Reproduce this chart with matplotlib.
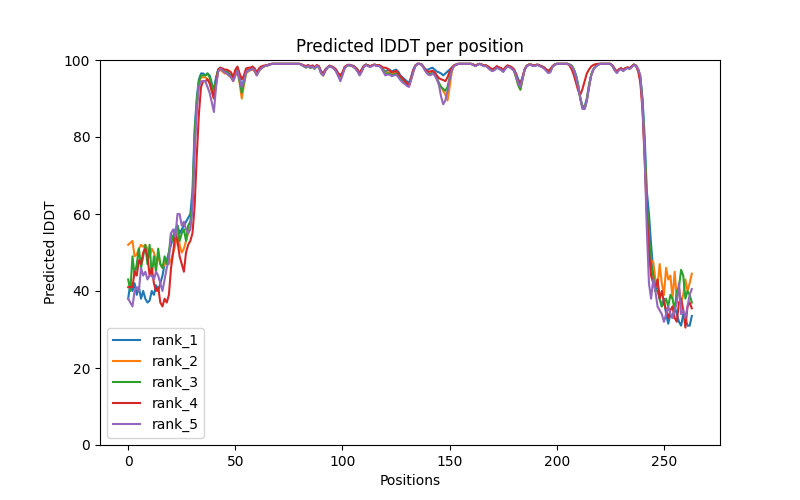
import numpy as np
import matplotlib
matplotlib.use("Agg")
import matplotlib.pyplot as plt

# predicted lDDT per residue for each ranked model
rank_1 = [
    38, 42, 40, 42, 39, 41, 38, 40, 38, 37,
    37.5, 40, 39, 41.5, 40, 42, 44, 47, 48, 50,
    52, 54, 56, 57, 55, 56, 57, 58, 59, 60,
    66, 82, 90, 95, 96.5, 96.5, 96, 96.5, 96, 94,
    92, 95.5, 97.5, 98, 97.5, 97, 97, 96.5, 96, 95,
    96.5, 97.5, 95.5, 93, 95, 97, 97.5, 97.5, 98, 97.5,
    96.5, 97.5, 98, 98.3, 98.5, 98.6, 98.8, 99, 99, 99,
    99, 99, 99, 99, 99, 99, 99, 99, 99, 99,
    99, 98.8, 98.5, 98.3, 98.6, 98.2, 98.5, 98, 98.6, 98.3,
    97, 96.5, 97.5, 98, 98.5, 98.3, 98, 97.5, 96.5, 96,
    96.5, 98, 98.5, 98.7, 98.5, 98.5, 98, 97.5, 96.5, 97.5,
    98.5, 98.8, 98.5, 98.3, 98.6, 98.8, 98.5, 98.6, 98.3, 97.5,
    97, 97.3, 97.5, 97, 97.3, 97.5, 97, 96, 95.5, 95,
    94.5, 94, 95.5, 97.5, 98.5, 99, 99, 98.8, 98, 97.5,
    97.5, 97.8, 98, 97.5, 97, 96.8, 96.5, 96, 96.5, 97,
    97.5, 98, 98.5, 98.8, 99, 99, 99, 99, 99, 99,
    99, 98.8, 98.5, 98.8, 99, 98.8, 98.5, 98.6, 98.2, 97.8,
    97.5, 97.8, 98.3, 98, 97.8, 97.3, 98, 98.5, 98.3, 98,
    97.5, 96.5, 95, 94, 95.5, 97.5, 98.5, 98.8, 98.8, 98.5,
    98.6, 98.8, 98.5, 98.3, 98, 97.5, 97, 97.5, 98.3, 98.8,
    99, 99, 99, 99, 99, 99, 98.8, 98.5, 97.5, 96,
    93.5, 90, 88, 88, 90, 93.5, 96, 97.5, 98.3, 98.7,
    99, 99, 99, 99, 99, 99, 98.5, 97.5, 97, 97.5,
    97.8, 97.3, 97.8, 98, 97.8, 98.3, 98.8, 98.5, 97.5, 95.5,
    90, 80, 66, 60, 52, 45, 40, 42, 38, 36,
    38, 34, 31.5, 34, 33, 36, 34, 32, 31, 34,
    33, 31, 31, 33.5,
]

rank_2 = [
    52, 52.5, 53, 49, 49.5, 51, 52, 51.5, 52, 51,
    49, 51, 50, 48, 49, 47, 46, 47, 48, 47,
    48, 50, 52, 55, 52, 50, 51, 53, 55, 57,
    62, 78, 88, 94, 95.5, 95.5, 95.5, 95, 94, 92,
    90, 94.5, 97, 97.5, 97, 96.5, 96.5, 96, 95.5, 94.5,
    96, 97, 94, 90, 93.5, 96.5, 97, 97.5, 97.5, 97,
    96, 97, 97.8, 98.2, 98.5, 98.6, 98.8, 99, 99, 99,
    99, 99, 99, 99, 99, 99, 99, 99, 99, 99,
    99, 98.8, 98.5, 98.2, 98.5, 98, 98.4, 97.8, 98.5, 98.2,
    96.5, 96, 97.2, 98, 98.5, 98.2, 97.8, 97.2, 96, 95.5,
    96.5, 98, 98.5, 98.7, 98.5, 98.3, 97.8, 97.2, 96.2, 97.2,
    98.4, 98.8, 98.5, 98.3, 98.6, 98.8, 98.5, 98.6, 98.2, 97.3,
    96.5, 96.8, 96.8, 96.3, 96.5, 96.8, 96.2, 95.3, 94.8, 94.3,
    93.8, 93.3, 95, 97, 98.5, 99, 99, 98.8, 98, 97,
    96.5, 96.5, 96.8, 96.3, 95.3, 94, 93, 92, 91, 89.5,
    93, 97, 98.5, 98.8, 99, 99, 99, 99, 99, 99,
    99, 98.8, 98.5, 98.8, 99, 98.8, 98.5, 98.6, 98.2, 97.7,
    97.3, 97.7, 98.2, 98, 97.7, 97.2, 98, 98.5, 98.3, 98,
    97.3, 95.5, 93.5, 92.3, 95, 97.5, 98.5, 98.8, 98.8, 98.5,
    98.6, 98.8, 98.5, 98.3, 98, 97.5, 97, 97.2, 98.3, 98.8,
    99, 99, 99, 99, 99, 99, 98.8, 98.5, 97.5, 95.5,
    93, 90, 87.5, 87.5, 89.5, 93, 96, 97.5, 98.3, 98.7,
    99, 99, 99, 99, 99, 99, 98.5, 97.5, 96.8, 97.5,
    97.8, 97.3, 97.8, 98, 97.8, 98.3, 98.8, 98.5, 97.3, 95,
    88, 76, 62, 52, 48, 47.5, 43, 41, 47, 42,
    39, 46, 43, 44, 38, 45, 38, 41, 37, 39,
    43, 40, 42, 44.5,
]

rank_3 = [
    43, 40, 49, 44, 47, 51, 46, 49, 52, 47,
    52, 44, 49, 45, 51, 47, 46, 49, 47, 50,
    55, 53, 55, 57, 53, 55, 56, 53, 57, 58,
    63, 80, 89, 94.5, 96, 96, 96, 96.5, 95.5, 93.5,
    91.5, 95, 97.5, 98, 97.5, 97, 96.8, 96.3, 95.8, 94.8,
    96.3, 97.3, 94.5, 91.5, 94, 96.8, 97.3, 97.5, 97.8, 97.3,
    96.2, 97.3, 97.8, 98.2, 98.5, 98.6, 98.8, 99, 99, 99,
    99, 99, 99, 99, 99, 99, 99, 99, 99, 99,
    99, 98.7, 98.3, 98, 98.4, 97.9, 98.2, 97.7, 98.4, 98.1,
    96.6, 96, 97.3, 98, 98.5, 98.2, 97.8, 97.2, 96.2, 95.8,
    96.5, 98, 98.5, 98.7, 98.5, 98.3, 97.8, 97.2, 96.2, 97.2,
    98.4, 98.8, 98.5, 98.3, 98.6, 98.8, 98.5, 98.6, 98.2, 97.3,
    96.3, 96.5, 96.5, 96, 96.3, 96.5, 96, 95.2, 94.6, 94.2,
    93.6, 93.2, 95, 97, 98.5, 99, 99, 98.8, 98, 97,
    96.5, 96.3, 96.8, 96.3, 95.3, 94, 93, 92.5, 92, 93,
    95.5, 97.5, 98.5, 98.8, 99, 99, 99, 99, 99, 99,
    99, 98.8, 98.5, 98.8, 99, 98.8, 98.5, 98.5, 98, 97.5,
    97.2, 97.5, 98, 97.8, 97.5, 97, 97.8, 98.4, 98.2, 97.8,
    97.2, 95.5, 93.5, 92.3, 95, 97.5, 98.5, 98.8, 98.8, 98.5,
    98.6, 98.8, 98.5, 98.3, 98, 97.5, 97, 97.2, 98.3, 98.8,
    99, 99, 99, 99, 99, 99, 98.8, 98.5, 97.5, 95.8,
    93.2, 90, 87.5, 87.3, 89.5, 93, 96, 97.5, 98.3, 98.7,
    99, 99, 99, 99, 99, 99, 98.5, 97.5, 96.8, 97.5,
    97.8, 97.3, 97.8, 98, 97.8, 98.3, 98.8, 98.5, 97.5, 95.3,
    89, 77, 63, 54, 47, 44, 40, 40, 38, 36,
    37, 38, 36, 39, 38, 35, 40, 41, 45.5, 44,
    38, 40, 39, 37,
]

rank_4 = [
    41, 41, 41, 45, 44, 48, 47, 50, 51, 49,
    44, 46, 42, 40, 41, 37, 36, 38, 37, 39,
    46, 50, 55, 53, 49, 47, 45, 50, 52, 53,
    55, 62, 75, 86, 93, 94.5, 94.5, 95, 94, 92,
    90, 94, 97.5, 98, 97.8, 97.5, 97.5, 97.2, 96.8, 95.5,
    97.5, 98.3, 96.5, 95, 96, 97.8, 98, 98, 98.3, 97.8,
    96.8, 97.8, 98.3, 98.5, 98.6, 98.7, 98.9, 99, 99, 99,
    99, 99, 99, 99, 99, 99, 99, 99, 99, 99,
    99, 98.8, 98.6, 98.4, 98.7, 98.3, 98.6, 98.1, 98.7, 98.4,
    97, 96.5, 97.5, 98.1, 98.5, 98.3, 98, 97.5, 96.5, 96,
    96.8, 98.2, 98.6, 98.8, 98.6, 98.5, 98.1, 97.5, 96.6, 97.6,
    98.5, 98.8, 98.6, 98.4, 98.7, 98.8, 98.6, 98.7, 98.4, 98,
    98, 97.8, 97.3, 96.8, 97, 97.2, 96.6, 95.8, 95.2, 94.6,
    94, 93.5, 95.3, 97.3, 98.6, 99, 99, 98.8, 98, 97.2,
    97, 97, 97.2, 96.8, 96, 95.3, 95, 94.8, 94.5, 95.5,
    97, 98, 98.6, 98.8, 99, 99, 99, 99, 99, 99,
    99, 98.8, 98.6, 98.8, 99, 98.8, 98.6, 98.6, 98.3, 97.9,
    97.6, 97.9, 98.4, 98.1, 97.9, 97.4, 98.1, 98.6, 98.4, 98.1,
    97.6, 96.3, 94.3, 93.5, 95.5, 97.6, 98.5, 98.8, 98.8, 98.6,
    98.7, 98.8, 98.6, 98.4, 98.1, 97.6, 97.2, 97.6, 98.4, 98.8,
    99, 99, 99, 99, 99, 99, 98.5, 97.5, 96, 94,
    92, 91, 92.5, 94.5, 96.5, 97.5, 98.3, 98.7, 98.9, 99,
    99, 99, 99, 99, 99, 99, 98.6, 97.7, 97, 97.6,
    97.9, 97.4, 97.9, 98.1, 97.9, 98.4, 98.8, 98.5, 97, 94,
    87, 74, 60, 50, 44, 42, 41, 43, 38, 40,
    37, 35, 33, 35, 36, 33, 32, 37, 38, 35,
    30.5, 36, 37, 35.5,
]

rank_5 = [
    38, 37, 36, 40, 41, 40, 46, 44, 45, 43,
    44, 44, 43, 45, 44, 42, 40, 43, 46, 48,
    55, 56, 54, 60, 60, 57, 58, 56, 55, 56,
    61, 76, 87, 93, 94.5, 94.5, 94.5, 93, 91.5, 89,
    86.5, 93, 97, 97.8, 97.3, 96.8, 96.5, 96, 95.5, 94.5,
    96, 97.2, 95, 93, 94.5, 96.8, 97.3, 97.3, 97.8, 97.3,
    96, 97.2, 97.8, 98.2, 98.5, 98.6, 98.8, 99, 99, 99,
    99, 99, 99, 99, 99, 99, 99, 99, 99, 99,
    99, 98.7, 98.4, 98.1, 98.5, 98, 98.3, 97.8, 98.5, 98.1,
    96.6, 96, 97.2, 98, 98.4, 98.1, 97.7, 97, 95.8, 94.5,
    96, 97.8, 98.5, 98.7, 98.5, 98.3, 97.8, 97, 96, 97,
    98.3, 98.7, 98.4, 98.2, 98.5, 98.7, 98.4, 98.5, 98, 97,
    96, 96.2, 96.2, 95.8, 96, 96.2, 95.6, 94.8, 94.2, 93.8,
    93.3, 93, 94.8, 96.8, 98.4, 99, 99, 98.7, 97.8, 96.8,
    96.2, 96, 96.5, 96, 95, 93.5, 90.5, 88.5, 89.5, 92,
    95, 97.3, 98.4, 98.7, 99, 99, 99, 99, 99, 99,
    99, 98.7, 98.4, 98.7, 99, 98.7, 98.4, 98.4, 97.9, 97.4,
    97.1, 97.4, 98, 97.7, 97.4, 96.9, 97.7, 98.3, 98.1, 97.7,
    97.2, 95.8, 94, 93, 95.3, 97.5, 98.4, 98.7, 98.7, 98.4,
    98.5, 98.7, 98.4, 98.2, 97.8, 97.2, 96.6, 96.8, 98.2, 98.7,
    99, 99, 99, 99, 99, 99, 98.7, 98.3, 97.2, 95.5,
    92.8, 89.8, 87.3, 87.3, 89.3, 92.8, 95.8, 97.4, 98.2, 98.6,
    99, 99, 99, 99, 99, 99, 98.4, 97.3, 96.6, 97.3,
    97.6, 97.1, 97.6, 97.9, 97.7, 98.2, 98.7, 98.4, 97.6, 96,
    88, 75, 56, 42, 38, 43, 40, 36, 35, 34,
    32, 34, 36, 34, 33, 35, 37, 42, 34, 35,
    33, 36, 39, 40.5,
]

RANKS = {
    'rank_1': rank_1,
    'rank_2': rank_2,
    'rank_3': rank_3,
    'rank_4': rank_4,
    'rank_5': rank_5,
}


def main():
    fig, ax = plt.subplots(figsize=(8, 5), dpi=100)
    for label, plddt in RANKS.items():
        ax.plot(np.arange(len(plddt)), plddt, label=label)

    ax.set_title('Predicted lDDT per position')
    ax.set_xlabel('Positions')
    ax.set_ylabel('Predicted lDDT')
    ax.set_ylim(0, 100)
    ax.legend(loc='lower left')

    fig.savefig('out.png', dpi=100)
    plt.close(fig)


if __name__ == "__main__":
    main()
